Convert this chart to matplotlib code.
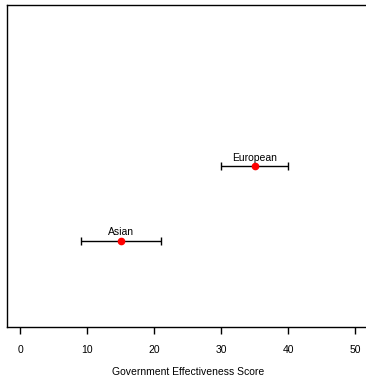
import matplotlib
matplotlib.use("Agg")
import matplotlib.pyplot as plt

groups = ["Asian", "European"]
means = [15, 35]
lower = [9, 30]
upper = [21, 40]
ypos = [1, 2]
xticks = [0, 10, 20, 30, 40, 50]

plt.rcParams['font.family'] = ['Liberation Sans', 'DejaVu Sans']

fig = plt.figure(figsize=(3.66, 3.77), dpi=100)
ax = fig.add_axes([7/366, 50/377, 361.4/366, 322/377])

for g, m, lo, hi, y in zip(groups, means, lower, upper, ypos):
    ax.errorbar([m], [y], xerr=[[m - lo], [hi - m]], fmt='none', ecolor='black',
                elinewidth=1, capsize=3, capthick=1)
    ax.plot([m], [y], 'o', color='red', markersize=4.5, zorder=3)
    ax.annotate(g, (m, y), xytext=(0, 2.5), textcoords='offset points',
                ha='center', va='bottom', fontsize=7.5)

ax.set_xlim(-2, 52)
ax.set_ylim(-0.16, 4.16)
ax.set_xticks(xticks)
ax.set_yticks([])
ax.tick_params(axis='x', direction='out', length=5, width=1, labelsize=7.5, pad=8)
ax.set_xlabel("Government Effectiveness Score", fontsize=7.5, labelpad=8.5)
for s in ax.spines.values():
    s.set_linewidth(1)

fig.savefig("out.png", dpi=100)
